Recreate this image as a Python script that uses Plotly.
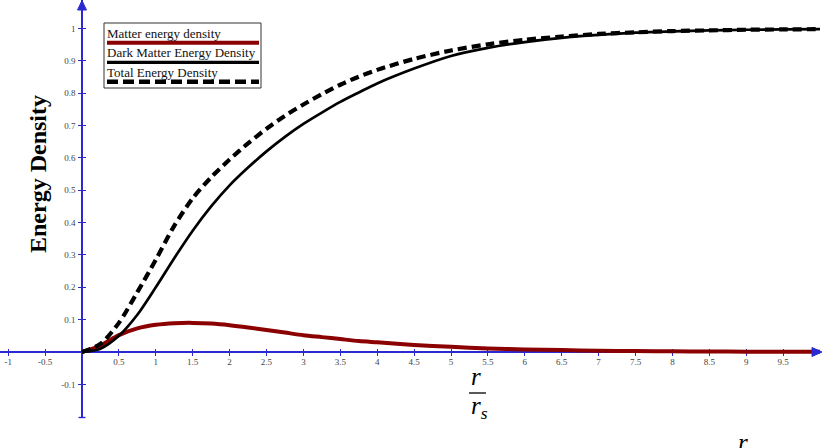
import plotly.graph_objects as go

# ---------------- data ----------------
r_ratio = [0, 0.25, 0.5, 0.75, 1, 1.25, 1.5, 1.75, 2, 2.25, 2.5, 2.75, 3,
           3.25, 3.5, 3.75, 4, 4.5, 5, 5.5, 6, 6.5, 7, 7.5, 8, 8.5, 9, 9.5, 10]
matter = [0, 0.020, 0.052, 0.073, 0.084, 0.089, 0.090, 0.088, 0.083, 0.076,
          0.068, 0.060, 0.052, 0.046, 0.040, 0.034, 0.030, 0.022, 0.016,
          0.011, 0.008, 0.006, 0.004, 0.003, 0.002, 0.0015, 0.001, 0.0008,
          0.0005]
dark_matter = [0, 0.010, 0.050, 0.115, 0.200, 0.290, 0.375, 0.450, 0.515,
               0.570, 0.620, 0.665, 0.705, 0.740, 0.773, 0.802, 0.830, 0.876,
               0.915, 0.940, 0.958, 0.971, 0.980, 0.987, 0.991, 0.994, 0.996,
               0.997, 0.998]
total = [0, 0.025, 0.090, 0.185, 0.285, 0.390, 0.475, 0.540, 0.595, 0.645,
         0.690, 0.730, 0.765, 0.797, 0.826, 0.851, 0.872, 0.906, 0.932, 0.951,
         0.965, 0.975, 0.983, 0.988, 0.992, 0.994, 0.996, 0.997, 0.998]

x_tickvals = [-1, -0.5, 0.5, 1, 1.5, 2, 2.5, 3, 3.5, 4, 4.5, 5, 5.5, 6, 6.5,
              7, 7.5, 8, 8.5, 9, 9.5]
x_ticktext = ["-1", "-0.5", "0.5", "1", "1.5", "2", "2.5", "3", "3.5", "4",
              "4.5", "5", "5.5", "6", "6.5", "7", "7.5", "8", "8.5", "9", "9.5"]
y_tickvals = [-0.1, 0.1, 0.2, 0.3, 0.4, 0.5, 0.6, 0.7, 0.8, 0.9, 1.0]
y_ticktext = ["-0.1", "0.1", "0.2", "0.3", "0.4", "0.5", "0.6", "0.7",
              "0.8", "0.9", "1"]

legend_names = ["Matter energy density", "Dark Matter Energy Density",
                "Total Energy Density"]

# ---------------- geometry ----------------
W, H = 824, 448
AXIS_BLUE = "#2a2ad0"
RED = "#8B0000"
SERIF = "Liberation Serif"

X_RANGE = [-1.111, 10.0]
Y_RANGE = [-0.204, 1.088]
X_DOMAIN = [0, 820 / W]
Y_DOMAIN = [30 / H, 1]
X_AXIS_POS = 1 - 352 / H   # paper position of y = 0
Y_AXIS_POS = 82 / W        # paper position of x = 0


def px(x):
    return x / W


def py(y):
    return 1 - y / H


fig = go.Figure()
fig.add_trace(go.Scatter(x=r_ratio, y=matter, mode="lines", name=legend_names[0],
                         line=dict(color=RED, width=4, shape="spline", smoothing=0.8)))
fig.add_trace(go.Scatter(x=r_ratio, y=dark_matter, mode="lines", name=legend_names[1],
                         line=dict(color="black", width=2.7, shape="spline", smoothing=0.8)))
fig.add_trace(go.Scatter(x=r_ratio, y=total, mode="lines", name=legend_names[2],
                         line=dict(color="black", width=4.2, dash="9px,5px",
                                   shape="spline", smoothing=0.8)))
# dummy trace to create the overlay axes (inner half of the crossing ticks)
fig.add_trace(go.Scatter(x=[None], y=[None], xaxis="x2", yaxis="y2",
                         showlegend=False, hoverinfo="skip"))

tickfont = dict(family=SERIF, size=9, color="#444")

fig.update_layout(
    width=W, height=H, autosize=False,
    margin=dict(l=0, r=0, t=0, b=0),
    paper_bgcolor="white", plot_bgcolor="white",
    showlegend=False,
    xaxis=dict(range=X_RANGE, domain=X_DOMAIN, anchor="free", position=X_AXIS_POS,
               showgrid=False, zeroline=False, showline=True, linecolor=AXIS_BLUE,
               linewidth=1.6, ticks="outside", ticklen=3, tickwidth=1.2,
               tickcolor=AXIS_BLUE, tickvals=x_tickvals, ticktext=x_ticktext,
               tickfont=tickfont, ticklabelstandoff=-2, layer="below traces"),
    yaxis=dict(range=Y_RANGE, domain=Y_DOMAIN, anchor="free", position=Y_AXIS_POS,
               showgrid=False, zeroline=False, showline=True, linecolor=AXIS_BLUE,
               linewidth=1.6, ticks="outside", ticklen=3, tickwidth=1.2,
               tickcolor=AXIS_BLUE, tickvals=y_tickvals, ticktext=y_ticktext,
               tickfont=tickfont, ticklabelstandoff=1, layer="below traces"),
    xaxis2=dict(range=X_RANGE, domain=X_DOMAIN, anchor="free", position=X_AXIS_POS,
                overlaying="x", showgrid=False, zeroline=False, showline=False,
                ticks="inside", ticklen=3, tickwidth=1.2, tickcolor=AXIS_BLUE,
                tickvals=x_tickvals, showticklabels=False, layer="below traces"),
    yaxis2=dict(range=Y_RANGE, domain=Y_DOMAIN, anchor="free", position=Y_AXIS_POS,
                overlaying="y", showgrid=False, zeroline=False, showline=False,
                ticks="inside", ticklen=3, tickwidth=1.2, tickcolor=AXIS_BLUE,
                tickvals=y_tickvals, showticklabels=False, layer="below traces"),
)

annotations = []
shapes = []


def tri_path(points):
    return "M " + " L ".join(f"{px(a):.5f},{py(b):.5f}" for a, b in points) + " Z"


# axis arrowheads (filled triangles) and end crossbar of the y axis
shapes.append(dict(type="path", xref="paper", yref="paper",
                   path=tri_path([(812, 347.5), (822, 352), (812, 356.5)]),
                   fillcolor=AXIS_BLUE, line=dict(color=AXIS_BLUE, width=1)))
shapes.append(dict(type="path", xref="paper", yref="paper",
                   path=tri_path([(77.5, 10), (82, 0.5), (86.5, 10)]),
                   fillcolor=AXIS_BLUE, line=dict(color=AXIS_BLUE, width=1)))
shapes.append(dict(type="line", xref="paper", yref="paper",
                   x0=px(78.5), x1=px(85.5), y0=py(417.5), y1=py(417.5),
                   line=dict(color=AXIS_BLUE, width=1.4)))

# y-axis title
annotations.append(dict(xref="paper", yref="paper", x=px(38), y=py(174),
                        text="<b>Energy Density</b>", textangle=-90, showarrow=False,
                        font=dict(family=SERIF, size=24, color="black"),
                        xanchor="center", yanchor="middle"))

# x-axis title r / r_s
math_font = dict(family=SERIF, size=25, color="black")
annotations.append(dict(xref="paper", yref="paper", x=px(476), y=py(376),
                        text="<i>r</i>", showarrow=False, font=math_font,
                        xanchor="center", yanchor="middle"))
annotations.append(dict(xref="paper", yref="paper", x=px(479), y=py(407),
                        text="<i>r<sub>s</sub></i>", showarrow=False, font=math_font,
                        xanchor="center", yanchor="middle"))
shapes.append(dict(type="line", xref="paper", yref="paper",
                   x0=px(469), x1=px(486), y0=py(393), y1=py(393),
                   line=dict(color="black", width=1.3)))
# partially visible symbol at the bottom-right edge (cut off in the reference too)
annotations.append(dict(xref="paper", yref="paper", x=px(743), y=py(442),
                        text="<i>r</i>", showarrow=False, font=math_font,
                        xanchor="center", yanchor="middle"))

# legend box (drawn manually: text above its line sample)
shapes.append(dict(type="rect", xref="paper", yref="paper",
                   x0=px(104), x1=px(261), y0=py(23), y1=py(88),
                   line=dict(color="#333", width=1), fillcolor="white", layer="above"))
leg_font = dict(family=SERIF, size=13, color="#111")
text_y = [33, 53, 72.5]
line_y = [42.7, 62.3, 81.7]
line_styles = [dict(color=RED, width=4), dict(color="black", width=3.2),
               dict(color="black", width=4.5, dash="11px,5px")]
for name, ty, ly, ls in zip(legend_names, text_y, line_y, line_styles):
    annotations.append(dict(xref="paper", yref="paper", x=px(105), y=py(ty),
                            text=name, showarrow=False, font=leg_font,
                            xanchor="left", yanchor="middle"))
    shapes.append(dict(type="line", xref="paper", yref="paper",
                       x0=px(107), x1=px(259), y0=py(ly), y1=py(ly), line=ls,
                       layer="above"))

fig.update_layout(annotations=annotations, shapes=shapes)
fig.write_html("out.html")
